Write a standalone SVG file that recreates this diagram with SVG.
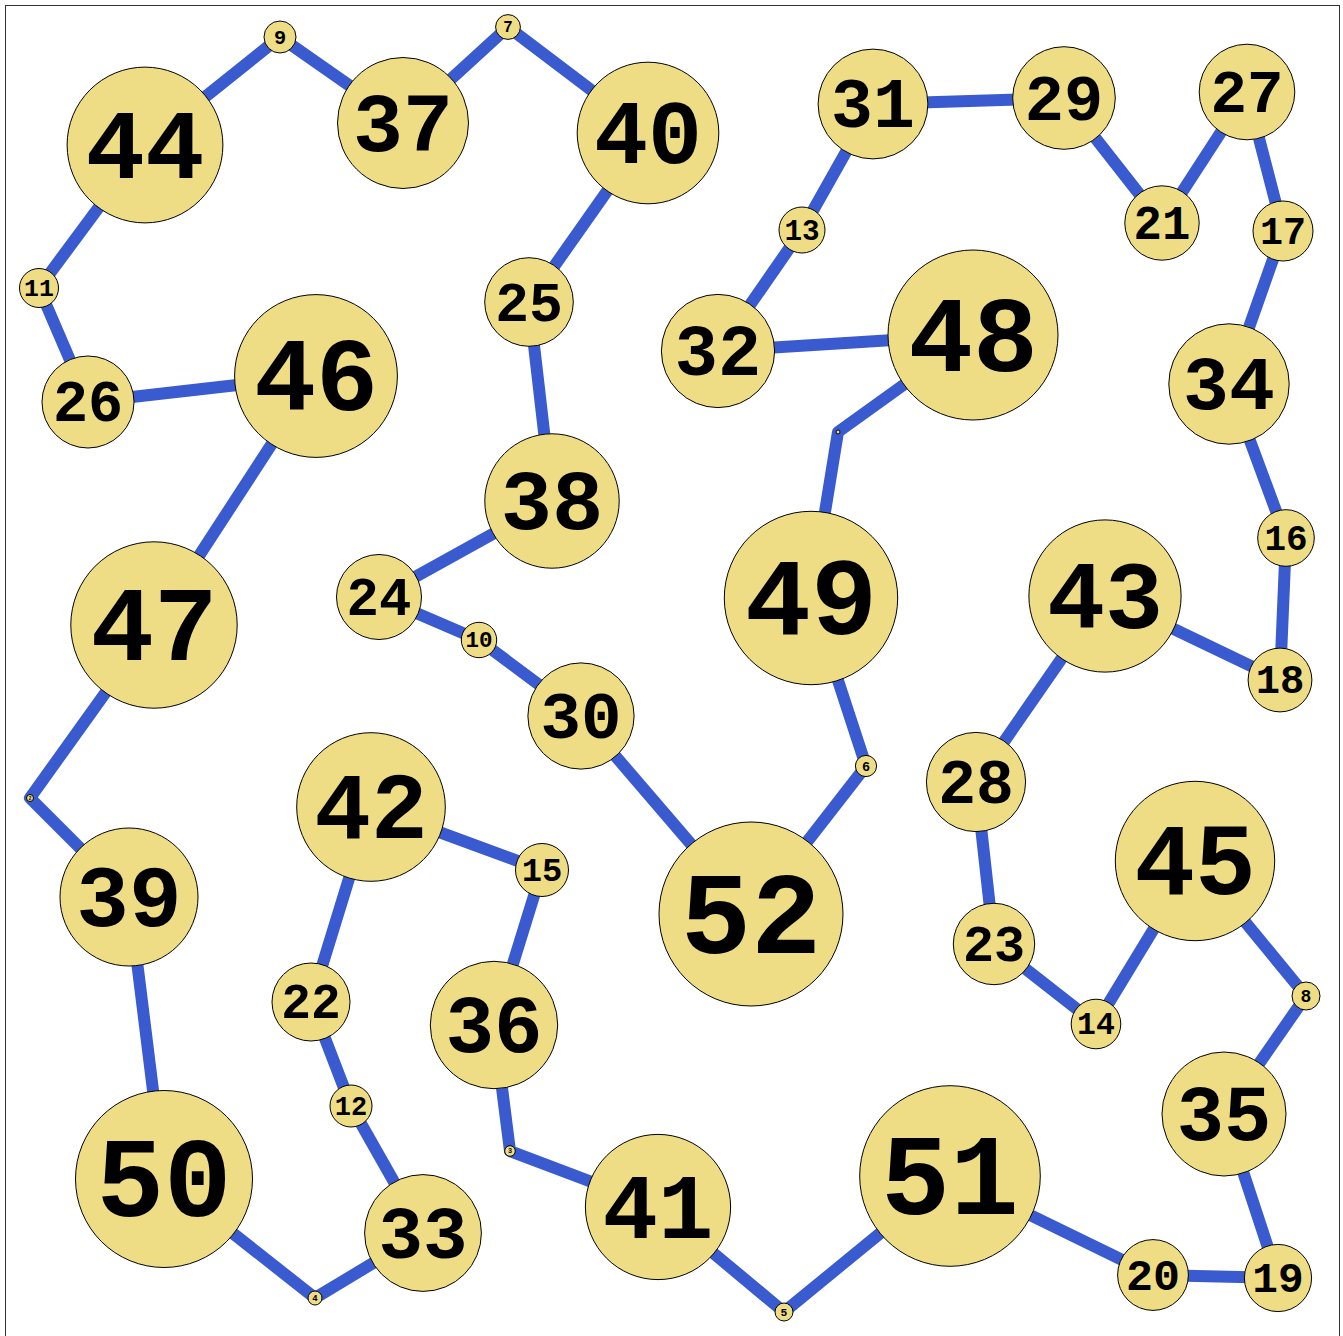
<svg xmlns="http://www.w3.org/2000/svg" width="1343" height="1336" viewBox="0 0 1343 1336">
<style>
.e{stroke:#3a5bcf;stroke-width:12;fill:none;stroke-linecap:butt;stroke-linejoin:round}
.n circle{fill:#eedd84;stroke:#000;stroke-width:1}
.n text{font-family:"Liberation Mono","Courier New",monospace;font-weight:bold;text-anchor:middle;fill:#000}
</style>
<rect x="0" y="0" width="1343" height="1336" fill="#fff"/>
<rect x="5.5" y="5.5" width="1334" height="1340" fill="none" stroke="#333" stroke-width="1"/>
<g id="edges">
<polyline class="e" points="145,145 280,37 403,123 508,27 648,133 529,302 552,501 379,597 479,640 581,716 751,914 866,766 811,598 838,432 973,335 718,351 802,230 873,104 1064,98 1162,223 1247,92 1283,231 1229,384 1286,538 1280,680 1105,596 976,782 994,944 1096,1024 1195,861 1306,996 1224,1114 1278,1278 1153,1275 950,1176 784,1312 658,1207 510,1151 494,1025 542,870 371,807 311,1002 351,1106 423,1233 315,1298 164,1179 129,897 30,798 154,625 316,376 88,402 39,288 145,145"/>
</g>
<g id="n1" class="n"><circle cx="838" cy="432" r="2"/></g>
<g id="n2" class="n"><circle cx="30" cy="798" r="3.5"/><text x="30" y="799.5" font-size="4.5">2</text></g>
<g id="n3" class="n"><circle cx="510" cy="1151" r="5.3"/><text x="510" y="1153.3" font-size="6.8">3</text></g>
<g id="n4" class="n"><circle cx="315" cy="1298" r="7"/><text x="315" y="1301" font-size="9">4</text></g>
<g id="n5" class="n"><circle cx="784" cy="1312" r="9"/><text x="784" y="1315.7" font-size="11.3">5</text></g>
<g id="n6" class="n"><circle cx="866" cy="766" r="10.6"/><text x="866" y="770.5" font-size="13.5">6</text></g>
<g id="n7" class="n"><circle cx="508" cy="27" r="12.4"/><text x="508" y="32.2" font-size="15.8">7</text></g>
<g id="n8" class="n"><circle cx="1306" cy="996" r="14"/><text x="1306" y="1002" font-size="18">8</text></g>
<g id="n9" class="n"><circle cx="280" cy="37" r="16"/><text x="280" y="43.7" font-size="20.3">9</text></g>
<g id="n10" class="n"><circle cx="479" cy="640" r="17.7"/><text x="479" y="647.4" font-size="22.5">10</text></g>
<g id="n11" class="n"><circle cx="39" cy="288" r="19.5"/><text x="39" y="296.2" font-size="24.8">11</text></g>
<g id="n12" class="n"><circle cx="351" cy="1106" r="21"/><text x="351" y="1114.9" font-size="27">12</text></g>
<g id="n13" class="n"><circle cx="802" cy="230" r="23"/><text x="802" y="239.7" font-size="29.3">13</text></g>
<g id="n14" class="n"><circle cx="1096" cy="1024" r="24.8"/><text x="1096" y="1034.4" font-size="31.5">14</text></g>
<g id="n15" class="n"><circle cx="542" cy="870" r="26.5"/><text x="542" y="881.1" font-size="33.8">15</text></g>
<g id="n16" class="n"><circle cx="1286" cy="538" r="28.3"/><text x="1286" y="549.9" font-size="36">16</text></g>
<g id="n17" class="n"><circle cx="1283" cy="231" r="30"/><text x="1283" y="243.6" font-size="38.3">17</text></g>
<g id="n18" class="n"><circle cx="1280" cy="680" r="31.9"/><text x="1280" y="693.4" font-size="40.5">18</text></g>
<g id="n19" class="n"><circle cx="1278" cy="1278" r="33.6"/><text x="1278" y="1292.1" font-size="42.8">19</text></g>
<g id="n20" class="n"><circle cx="1153" cy="1275" r="35.4"/><text x="1153" y="1289.9" font-size="45">20</text></g>
<g id="n21" class="n"><circle cx="1162" cy="223" r="37.2"/><text x="1162" y="238.6" font-size="47.3">21</text></g>
<g id="n22" class="n"><circle cx="311" cy="1002" r="39"/><text x="311" y="1018.3" font-size="49.5">22</text></g>
<g id="n23" class="n"><circle cx="994" cy="944" r="40.7"/><text x="994" y="961.1" font-size="51.8">23</text></g>
<g id="n24" class="n"><circle cx="379" cy="597" r="42.5"/><text x="379" y="614.8" font-size="54">24</text></g>
<g id="n25" class="n"><circle cx="529" cy="302" r="44.3"/><text x="529" y="320.6" font-size="56.3">25</text></g>
<g id="n26" class="n"><circle cx="88" cy="402" r="46"/><text x="88" y="421.3" font-size="58.5">26</text></g>
<g id="n27" class="n"><circle cx="1247" cy="92" r="47.8"/><text x="1247" y="112" font-size="60.8">27</text></g>
<g id="n28" class="n"><circle cx="976" cy="782" r="49.6"/><text x="976" y="802.8" font-size="63">28</text></g>
<g id="n29" class="n"><circle cx="1064" cy="98" r="51.3"/><text x="1064" y="119.5" font-size="65.3">29</text></g>
<g id="n30" class="n"><circle cx="581" cy="716" r="53.1"/><text x="581" y="738.3" font-size="67.5">30</text></g>
<g id="n31" class="n"><circle cx="873" cy="104" r="54.9"/><text x="873" y="127" font-size="69.8">31</text></g>
<g id="n32" class="n"><circle cx="718" cy="351" r="56.6"/><text x="718" y="374.8" font-size="72">32</text></g>
<g id="n33" class="n"><circle cx="423" cy="1233" r="58.4"/><text x="423" y="1257.5" font-size="74.3">33</text></g>
<g id="n34" class="n"><circle cx="1229" cy="384" r="60.2"/><text x="1229" y="409.2" font-size="76.5">34</text></g>
<g id="n35" class="n"><circle cx="1224" cy="1114" r="62"/><text x="1224" y="1140" font-size="78.8">35</text></g>
<g id="n36" class="n"><circle cx="494" cy="1025" r="63.7"/><text x="494" y="1051.7" font-size="81">36</text></g>
<g id="n37" class="n"><circle cx="403" cy="123" r="65.5"/><text x="403" y="150.5" font-size="83.3">37</text></g>
<g id="n38" class="n"><circle cx="552" cy="501" r="67.2"/><text x="552" y="529.2" font-size="85.5">38</text></g>
<g id="n39" class="n"><circle cx="129" cy="897" r="69"/><text x="129" y="926" font-size="87.8">39</text></g>
<g id="n40" class="n"><circle cx="648" cy="133" r="70.8"/><text x="648" y="162.7" font-size="90">40</text></g>
<g id="n41" class="n"><circle cx="658" cy="1207" r="72.6"/><text x="658" y="1237.5" font-size="92.3">41</text></g>
<g id="n42" class="n"><circle cx="371" cy="807" r="74.3"/><text x="371" y="838.2" font-size="94.5">42</text></g>
<g id="n43" class="n"><circle cx="1105" cy="596" r="76.1"/><text x="1105" y="628" font-size="96.8">43</text></g>
<g id="n44" class="n"><circle cx="145" cy="145" r="77.9"/><text x="145" y="177.7" font-size="99">44</text></g>
<g id="n45" class="n"><circle cx="1195" cy="861" r="79.7"/><text x="1195" y="894.4" font-size="101.3">45</text></g>
<g id="n46" class="n"><circle cx="316" cy="376" r="81.4"/><text x="316" y="410.2" font-size="103.5">46</text></g>
<g id="n47" class="n"><circle cx="154" cy="625" r="83.2"/><text x="154" y="659.9" font-size="105.8">47</text></g>
<g id="n48" class="n"><circle cx="973" cy="335" r="85"/><text x="973" y="370.6" font-size="108">48</text></g>
<g id="n49" class="n"><circle cx="811" cy="598" r="86.7"/><text x="811" y="634.4" font-size="110.3">49</text></g>
<g id="n50" class="n"><circle cx="164" cy="1179" r="88.5"/><text x="164" y="1216.1" font-size="112.5">50</text></g>
<g id="n51" class="n"><circle cx="950" cy="1176" r="90.3"/><text x="950" y="1213.9" font-size="114.8">51</text></g>
<g id="n52" class="n"><circle cx="751" cy="914" r="92"/><text x="751" y="952.6" font-size="117">52</text></g>
</svg>
